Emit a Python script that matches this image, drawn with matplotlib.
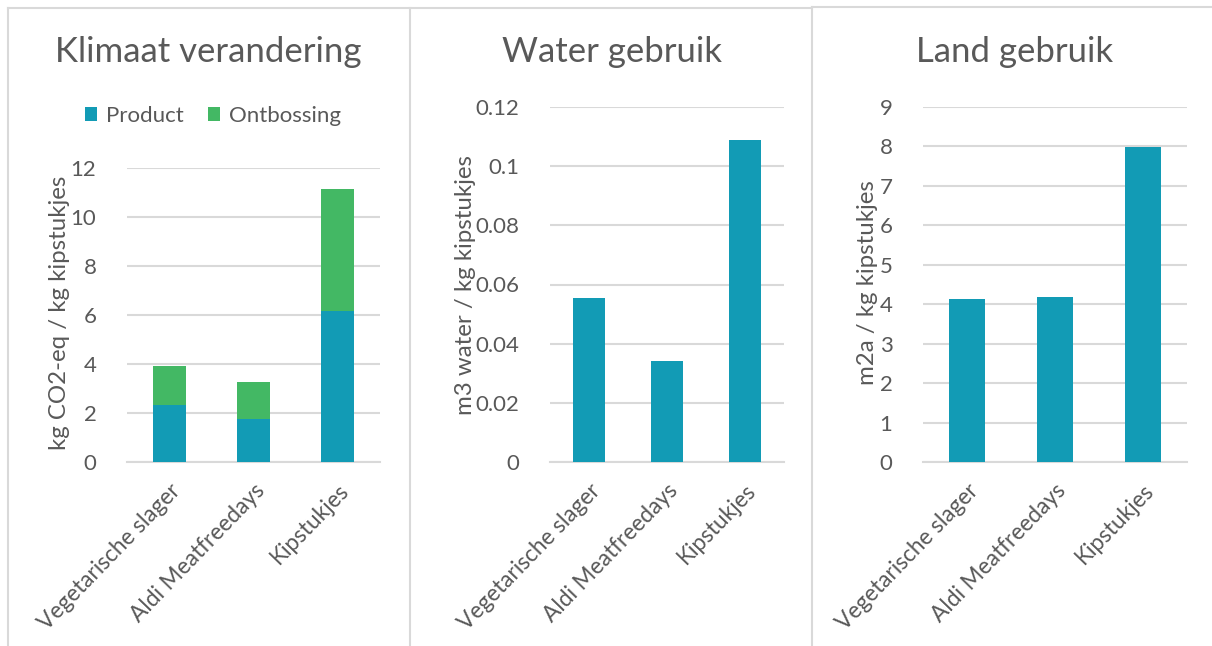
import matplotlib
matplotlib.use("Agg")
import matplotlib.pyplot as plt
from matplotlib.lines import Line2D
import numpy as np

plt.rcParams['font.family'] = ['Lato', 'DejaVu Sans']

categories = ["Vegetarische slager", "Aldi Meatfreedays", "Kipstukjes"]
climate_product = [2.31, 1.74, 6.16]
climate_ontbossing = [1.62, 1.51, 4.98]
water_use = [0.0555, 0.034, 0.109]
land_use = [4.13, 4.18, 7.98]

TEAL = "#129BB5"
GREEN = "#43B864"
GRID = "#D9D9D9"
TXT = "#595959"

W, H = 1212, 646
fig = plt.figure(figsize=(W / 100, H / 100), dpi=100)

def px_axes(left, right, top, bottom):
    return fig.add_axes([left / W, 1 - bottom / H, (right - left) / W, (bottom - top) / H])

def style(ax, ylim, yticks, ticklabels):
    ax.set_xlim(-0.5, 2.5)
    ax.set_ylim(*ylim)
    ax.set_yticks(yticks)
    ax.set_yticklabels(ticklabels)
    for s in ["top", "right", "left"]:
        ax.spines[s].set_visible(False)
    ax.spines["bottom"].set_color(GRID)
    ax.spines["bottom"].set_linewidth(1.5)
    ax.grid(axis="y", color=GRID, linewidth=1.5)
    ax.set_axisbelow(True)
    ax.tick_params(axis="both", length=0, colors=TXT, labelsize=16)
    ax.tick_params(axis="y", pad=22)
    ax.set_xticks(range(len(categories)))
    ax.set_xticklabels(categories, rotation=46, ha="right", rotation_mode="anchor",
                       fontsize=16.3, color=TXT)
    ax.tick_params(axis="x", pad=13)

x = np.arange(len(categories))

# Panel 1
ax1 = px_axes(127, 380, 168, 462)
ax1.bar(x, climate_product, width=0.39, color=TEAL, label="Product", zorder=3)
ax1.bar(x, climate_ontbossing, width=0.39, bottom=climate_product, color=GREEN,
        label="Ontbossing", zorder=3)
style(ax1, (0, 12), [0, 2, 4, 6, 8, 10, 12], ["0", "2", "4", "6", "8", "10", "12"])
ax1.legend(loc="center", bbox_to_anchor=(213 / W, 1 - 116 / H), bbox_transform=fig.transFigure,
           ncol=2, frameon=False, fontsize=16, labelcolor=TXT, handlelength=0.55,
           handleheight=0.55, handletextpad=0.4, columnspacing=1.1)

# Panel 2
ax2 = px_axes(550, 784, 107, 462)
ax2.bar(x, water_use, width=0.4, color=TEAL, zorder=3)
style(ax2, (0, 0.12), [0, 0.02, 0.04, 0.06, 0.08, 0.10, 0.12],
      ["0", "0.02", "0.04", "0.06", "0.08", "0.1", "0.12"])

# Panel 3
ax3 = px_axes(923, 1187, 107, 462)
ax3.bar(x, land_use, width=0.4, color=TEAL, zorder=3)
style(ax3, (0, 9), list(range(10)), [str(i) for i in range(10)])

# Titles
for cx, t in [(208, "Klimaat verandering"), (612, "Water gebruik"), (1015, "Land gebruik")]:
    fig.text(cx / W, 1 - 52 / H, t, ha="center", va="center", fontsize=25, color=TXT)

# Y labels
for cx, cy, t in [(60, 313, "kg CO2-eq / kg kipstukjes"),
                  (465, 285, "m3 water / kg kipstukjes"),
                  (867, 283, "m2a / kg kipstukjes")]:
    fig.text(cx / W, 1 - cy / H, t, ha="center", va="center", rotation=90,
             fontsize=17.3, color=TXT)

# Panel borders
def fline(x0, y0, x1, y1):
    fig.add_artist(Line2D([x0 / W, x1 / W], [1 - y0 / H, 1 - y1 / H],
                          color=GRID, linewidth=1.5, transform=fig.transFigure))

fline(8, 8, 812, 8)
fline(812, 7, 1212, 7)
fline(8, 8, 8, 646)
fline(410, 8, 410, 646)
fline(812, 7, 812, 646)

fig.savefig("out.png", dpi=100, facecolor="white")
